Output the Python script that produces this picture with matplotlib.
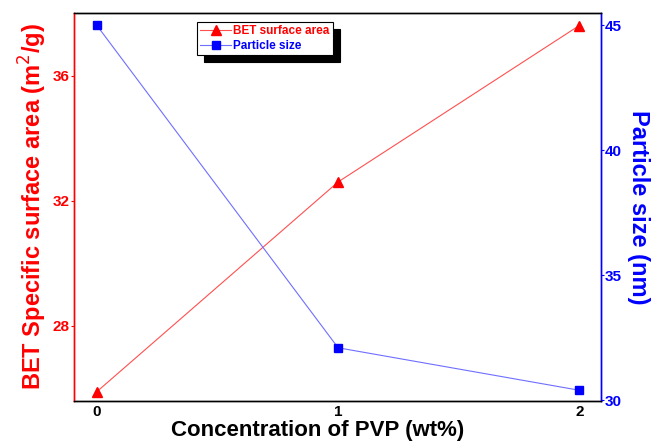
import matplotlib.pyplot as plt

plt.rcParams['font.family'] = ['Liberation Sans', 'DejaVu Sans']

pvp = [0, 1, 2]
bet_area = [25.9, 32.6, 37.6]
particle_size = [45.0, 32.1, 30.4]
x_ticks = [0, 1, 2]
left_ticks = [28, 32, 36]
right_ticks = [30, 35, 40, 45]

fig = plt.figure(figsize=(6.54, 4.43), dpi=100)
ax = fig.add_axes([74 / 654, 1 - 401 / 443, 527 / 654, 388 / 443])
ax2 = ax.twinx()

l1, = ax.plot(pvp, bet_area, color='#ff5050', lw=0.8, marker='^', ms=7.5,
              mfc='red', mec='red', label='BET surface area')
l2, = ax2.plot(pvp, particle_size, color='#6f6fff', lw=0.8, marker='s', ms=5.5,
               mfc='blue', mec='blue', label='Particle size')

ax.set_xlim(-0.095, 2.09)
ax.set_ylim(25.6, 38.0)
ax2.set_ylim(29.97, 45.5)

ax.set_xticks(x_ticks)
ax.set_yticks(left_ticks)
ax2.set_yticks(right_ticks)

ax.tick_params(axis='x', length=0, pad=3, labelsize=11, labelcolor='black')
ax.tick_params(axis='y', length=2, pad=1, colors='red', labelsize=11)
ax2.tick_params(axis='y', length=2, pad=1, colors='blue', labelsize=11)
for lab in ax.get_xticklabels() + ax.get_yticklabels() + ax2.get_yticklabels():
    lab.set_fontweight('bold')

for a in (ax, ax2):
    a.spines['top'].set_color('black')
    a.spines['bottom'].set_color('black')
    a.spines['left'].set_color('red')
    a.spines['right'].set_color('blue')
    for s in a.spines.values():
        s.set_linewidth(1.0)

ax.set_xlabel('Concentration of PVP (wt%)', fontsize=16, fontweight='bold')
ax.xaxis.set_label_coords(0.463, -0.05)
ax.set_ylabel('BET Specific surface area (m$^2$/g)', fontsize=17, fontweight='bold',
              color='red', labelpad=3)
ax2.set_ylabel('Particle size (nm)', fontsize=17, fontweight='bold', color='blue',
               rotation=270, labelpad=20)

leg = ax.legend([l1, l2], ['BET surface area', 'Particle size'],
                loc='upper left', bbox_to_anchor=(0.233, 0.977), borderaxespad=0,
                fancybox=False, edgecolor='black', framealpha=1,
                shadow={'color': 'black', 'alpha': 1, 'ox': 5, 'oy': -5},
                prop={'size': 8.5, 'weight': 'bold'}, handlelength=2.6,
                handletextpad=0.2, borderpad=0.3, labelspacing=0.2)
leg.get_frame().set_linewidth(0.8)
leg.get_texts()[0].set_color('red')
leg.get_texts()[1].set_color('blue')

fig.savefig('out.png', dpi=100)
